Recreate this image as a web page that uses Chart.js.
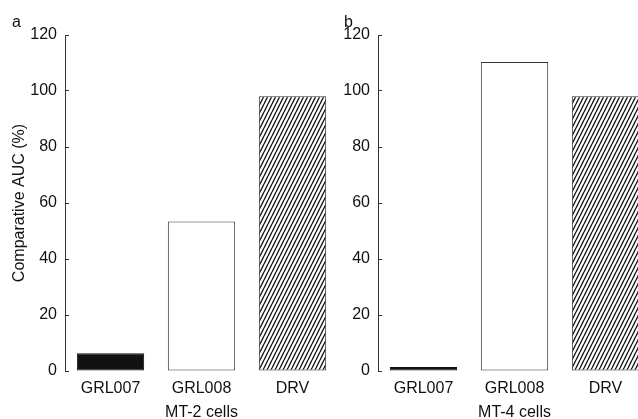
<!DOCTYPE html>
<html>
<head>
<meta charset="utf-8">
<script src="https://cdn.jsdelivr.net/npm/chart.js@4/dist/chart.umd.min.js"></script>
<style>
  html, body { margin: 0; padding: 0; background: #fff; overflow: hidden; }
  body { width: 638px; height: 419px; position: relative; font-family: "Liberation Sans", Arial, sans-serif; }
  .panel { position: absolute; top: 0; width: 340px; height: 419px; }
  .tag { position: absolute; font-size: 16px; line-height: 1; color: #111; }
</style>
</head>
<body>
<div class="panel" style="left:0"><canvas id="chartA" width="340" height="419"></canvas></div>
<div class="panel" style="left:320px"><canvas id="chartB" width="340" height="419"></canvas></div>
<div class="tag" style="left:12px; top:13.5px">a</div>
<div class="tag" style="left:344px; top:13.5px">b</div>
<script>
const categories = ['GRL007', 'GRL008', 'DRV'];
const mt2Values = [6.3, 53.4, 98.1];
const mt4Values = [1.4, 110.4, 98.1];
const yTicks = [0, 20, 40, 60, 80, 100, 120];

const ink = '#111';
const lineColor = '#333';
const fontSpec = { family: '"Liberation Sans", Arial, sans-serif', size: 16 };

function hatchPattern() {
    const tile = document.createElement('canvas');
    tile.width = 4;
    tile.height = 8;
    const c = tile.getContext('2d');
    c.fillStyle = '#fff';
    c.fillRect(0, 0, 4, 8);
    c.strokeStyle = '#1a1a1a';
    c.lineWidth = 1.4;
    c.beginPath();
    for (let k = -1; k <= 1; k++) {
        c.moveTo(k * 4, 8);
        c.lineTo(k * 4 + 4, 0);
    }
    c.stroke();
    return c.createPattern(tile, 'repeat');
}

function makeChart(container, values, cellLabel, axisWidth, rightPad, showYTitle) {
    const ctx = document.getElementById(container).getContext('2d');
    const hatch = hatchPattern();

    return new Chart(ctx, {
        type: 'bar',
        data: {
            labels: categories,
            datasets: [{
                data: values,
                backgroundColor: ['#111', '#fff', hatch],
                borderColor: ['#111', lineColor, lineColor],
                borderWidth: 1,
                borderSkipped: false,
                barPercentage: 0.74,
                categoryPercentage: 1,
            }],
        },
        options: {
            responsive: false,
            animation: false,
            layout: { padding: { left: 0, right: rightPad, top: 35, bottom: 0 } },
            plugins: { legend: { display: false }, tooltip: { enabled: false } },
            scales: {
                x: {
                    grid: { display: false, drawTicks: false },
                    border: { display: false },
                    ticks: { color: ink, font: fontSpec, padding: 8, maxRotation: 0 },
                    title: {
                        display: true,
                        text: cellLabel,
                        color: ink,
                        font: Object.assign({}, fontSpec, { lineHeight: 1 }),
                        padding: { top: 0, bottom: -2 },
                    },
                    afterFit: function(scale) { scale.height = 48; },
                },
                y: {
                    min: 0,
                    max: 120,
                    afterBuildTicks: function(scale) { scale.ticks = yTicks.map(v => ({ value: v })); },
                    grid: { drawOnChartArea: false, color: lineColor, tickLength: -4, lineWidth: 1 },
                    border: { display: true, color: lineColor, width: 1 },
                    ticks: { color: ink, font: fontSpec, padding: 12 },
                    title: {
                        display: showYTitle,
                        text: 'Comparative AUC (%)',
                        color: ink,
                        font: fontSpec,
                        padding: { top: 10, bottom: 0 },
                    },
                    afterFit: function(scale) { scale.width = axisWidth; },
                },
            },
        },
    });
}

makeChart('chartA', mt2Values, 'MT-2 cells', 65, 2, true);
makeChart('chartB', mt4Values, 'MT-4 cells', 58, 9, false);
</script>
</body>
</html>
